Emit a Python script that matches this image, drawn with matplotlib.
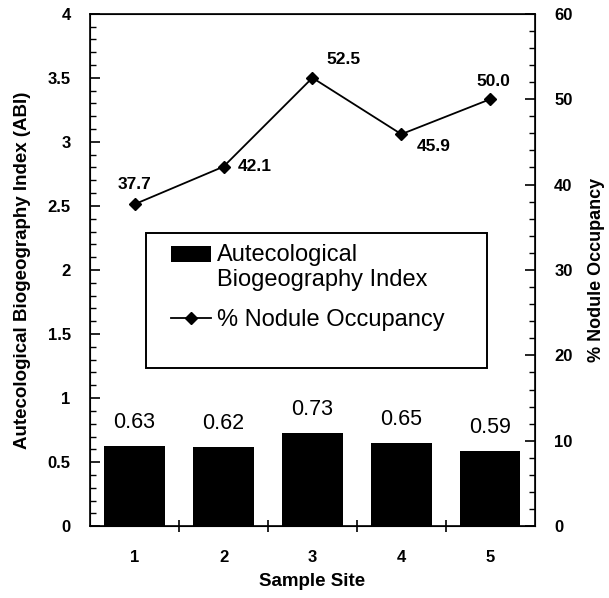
import matplotlib
matplotlib.use("Agg")
import matplotlib.pyplot as plt
from matplotlib.ticker import MultipleLocator
from matplotlib.patches import Rectangle
from matplotlib.legend_handler import HandlerPatch

sites = ["1", "2", "3", "4", "5"]
abi = [0.63, 0.62, 0.73, 0.65, 0.59]
occupancy = [37.7, 42.1, 52.5, 45.9, 50.0]
abi_labels = ["0.63", "0.62", "0.73", "0.65", "0.59"]
occ_labels = ["37.7", "42.1", "52.5", "45.9", "50.0"]

plt.rcParams['font.family'] = ['Liberation Sans', 'DejaVu Sans']

fig = plt.figure(figsize=(6.09, 5.98), dpi=100)
ax = fig.add_axes([0.148, 0.120, 0.730, 0.857])
x = list(range(1, len(sites) + 1))
bars = ax.bar(x, abi, width=0.68, color='black', zorder=2)
ax.set_xlim(0.5, 5.5)
ax.set_ylim(0, 4)
ax.yaxis.set_major_locator(MultipleLocator(0.5))
ax.yaxis.set_minor_locator(MultipleLocator(0.1))
ax.set_yticks(ax.get_yticks())
ax.set_yticklabels([f"{v:g}" for v in ax.get_yticks()])
ax.set_ylim(0, 4)
ax.tick_params(axis='y', which='major', direction='in', length=7, width=1.2, labelsize=12, pad=14)
ax.tick_params(axis='y', which='minor', direction='in', length=4, width=1)
ax.set_xticks(x)
ax.set_xticklabels(sites)
ax.tick_params(axis='x', which='major', length=0, labelsize=12, pad=17)
ax.set_xticks([1.5, 2.5, 3.5, 4.5], minor=True)
ax.tick_params(axis='x', which='minor', direction='inout', length=8, width=1.2)
for lbl in ax.get_yticklabels() + ax.get_xticklabels():
    lbl.set_fontweight('bold')
ax.set_ylabel("Autecological Biogeography Index (ABI)", fontsize=13.5, fontweight='bold', labelpad=12)
ax.set_xlabel("Sample Site", fontsize=13.5, fontweight='bold', labelpad=6)
for xi, v, t in zip(x, abi, abi_labels):
    ax.text(xi, v + 0.1, t, ha='center', va='bottom', fontsize=15.5)
for sp in ax.spines.values():
    sp.set_linewidth(1.2)

ax2 = ax.twinx()
line, = ax2.plot(x, occupancy, color='black', marker='D', markersize=6, linewidth=1.3)
ax2.set_ylim(0, 60)
ax2.yaxis.set_major_locator(MultipleLocator(10))
ax2.yaxis.set_minor_locator(MultipleLocator(2))
ax2.tick_params(axis='y', which='major', direction='in', length=7, width=1.2, labelsize=12, pad=14)
ax2.tick_params(axis='y', which='minor', direction='in', length=4, width=1)
for lbl in ax2.get_yticklabels():
    lbl.set_fontweight('bold')
ax2.set_ylabel("% Nodule Occupancy", fontsize=13, fontweight='bold', labelpad=11)
offsets = [(0, 9, 'center', 'bottom'), (10, 0, 'left', 'center'), (10, 8, 'left', 'bottom'),
           (11, -9, 'left', 'center'), (2, 7, 'center', 'bottom')]
for xi, v, t, (dx, dy, ha, va) in zip(x, occupancy, occ_labels, offsets):
    ax2.annotate(t, (xi, v), xytext=(dx, dy), textcoords='offset points', ha=ha,
                 va=va, fontsize=12.5, fontweight='bold')

frame = Rectangle((0.126, 0.309), 0.766, 0.263, transform=ax2.transAxes,
                  fill=True, facecolor='white', edgecolor='black', linewidth=1.4, zorder=3)
ax2.add_patch(frame)


def top_patch(legend, orig_handle, xdescent, ydescent, width, height, fontsize):
    return Rectangle((-xdescent, -ydescent + 0.62 * fontsize), width, height * 0.95)


leg = ax2.legend([bars.patches[0], line],
                 ['Autecological\nBiogeography Index', '% Nodule Occupancy'],
                 loc='upper left', bbox_to_anchor=(0.172, 0.560),
                 fontsize=17, frameon=False, borderaxespad=0,
                 handlelength=1.7, handletextpad=0.25, borderpad=0.2, labelspacing=0.75,
                 handler_map={bars.patches[0]: HandlerPatch(patch_func=top_patch)})
leg.set_zorder(4)

fig.savefig("out.png", dpi=100)
